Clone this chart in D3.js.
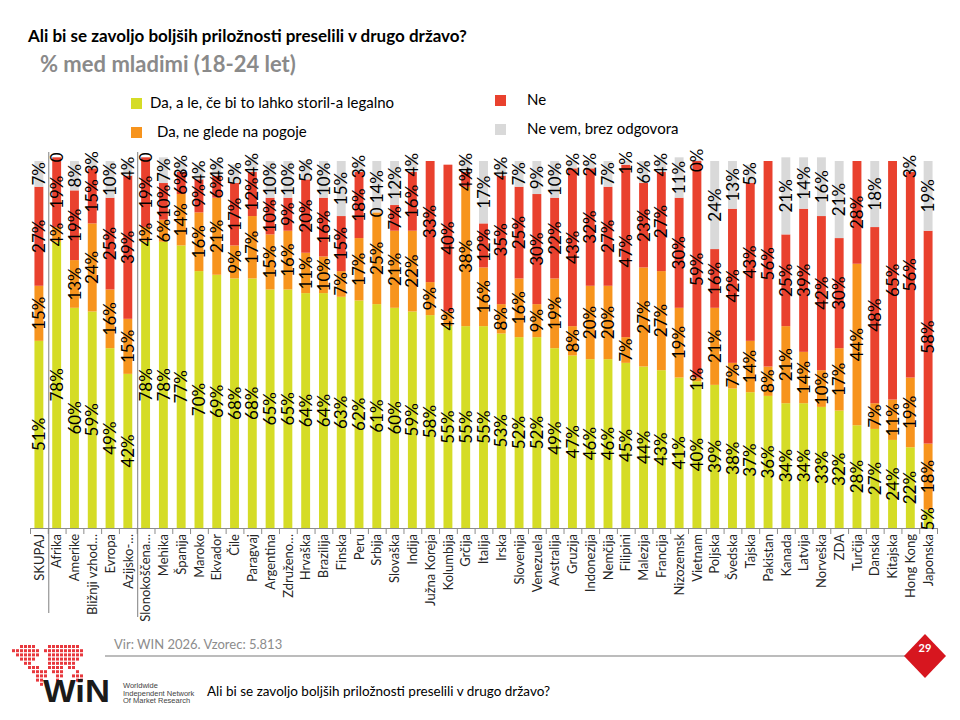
<!DOCTYPE html>
<html lang="sl">
<head>
<meta charset="UTF-8">
<title>Ali bi se zavoljo boljših priložnosti preselili v drugo državo?</title>
<style>
  html, body { margin: 0; padding: 0; background: #fff; }
  svg { display: block; font-family: Lato, "Open Sans", sans-serif; }
</style>
</head>
<body>
<div id="chart"></div>
<script src="https://cdn.jsdelivr.net/npm/d3@7"></script>
<script>
// categories as they appear (Excel truncated some of them)
const countries = ["SKUPAJ", "Afrika", "Amerike", "Bližnji vzhod…", "Evropa", "Azijsko-…",
  "Slonokoščena…", "Mehika", "Španija", "Maroko", "Ekvador", "Čile", "Paragvaj", "Argentina",
  "Združeno…", "Hrvaška", "Brazilija", "Finska", "Peru", "Srbija", "Slovaška", "Indija",
  "Južna Koreja", "Kolumbija", "Grčija", "Italija", "Irska", "Slovenija", "Venezuela",
  "Avstralija", "Gruzija", "Indonezija", "Nemčija", "Filipini", "Malezija", "Francija",
  "Nizozemsk", "Vietnam", "Poljska", "Švedska", "Tajska", "Pakistan", "Kanada", "Latvija",
  "Norveška", "ZDA", "Turčija", "Danska", "Kitajska", "Hong Kong", "Japonska"];

// null = no label shown
const legalno = [51, 78, 60, 59, 49, 42, 78, 78, 77, 70, 69, 68, 68, 65, 65, 64, 64, 63, 62, 61, 60, 59,
  58, 55, 55, 55, 53, 52, 52, 49, 47, 46, 46, 45, 44, 43, 41, 40, 39, 38, 37, 36, 34, 34, 33, 32, 28,
  27, 24, 22, 5];
const pogoje = [15, 4, 13, 24, 16, 15, 4, 6, 14, 16, 21, 9, 17, 15, 16, 11, 10, 7, 17, 25, 21, 22,
  9, 4, 38, 16, 8, 16, 9, 19, 8, 20, 20, 7, 27, 27, 19, 1, 21, 7, 14, 8, 21, 14, 10, 17, 44,
  7, 11, 19, 18];
const ne = [27, 19, 19, 15, 25, 39, 19, 10, 6, 9, 6, 17, 12, 10, 9, 20, 16, 15, 18, 0, 7, 16,
  33, 40, 4, 12, 35, 25, 30, 22, 43, 32, 27, 47, 23, 27, 30, 59, 16, 42, 43, 56, 25, 39, 42, 30, 28,
  48, 65, 56, 58];
const neVem = [7, 0, 8, 3, 10, 4, 0, 7, 3, 4, 4, 5, 4, 10, 10, 5, 10, 15, 3, 14, 12, 4,
  null, null, 4, 17, 4, 7, 9, 10, 2, 2, 7, 1, 6, 4, 11, 0.4, 24, 13, 5, null, 21, 14, 16, 21, null,
  18, null, 3, 19];

const seriesNames = ["Da, a le, če bi to lahko storil-a legalno", "Da, ne glede na pogoje", "Ne", "Ne vem, brez odgovora"];
const colors = ["#d5dc26", "#f7941d", "#e9412e", "#d9d9d9"];

const title = "Ali bi se zavoljo boljših priložnosti preselili v drugo državo?";
const subtitle = "% med mladimi (18-24 let)";
const source = "Vir: WIN 2026.  Vzorec: 5.813";
const pageNo = "29";

// rows for d3.stack
const keys = ["legalno", "pogoje", "ne", "neVem"];
const rows = countries.map((c, i) => ({
  country: c,
  legalno: legalno[i], pogoje: pogoje[i], ne: ne[i], neVem: neVem[i]
}));

const width = 960, height = 720;
const svg = d3.select("#chart").append("svg")
  .attr("width", width).attr("height", height);

const x = d3.scaleBand().domain(countries).range([30, 937])
  .paddingInner(0.5).paddingOuter(0.25);
const y = d3.scaleLinear().domain([0, 100]).range([528, 161]);
const step = x.step();

// titles
svg.append("text").attr("x", 28).attr("y", 42)
  .style("font-size", "17px").style("font-weight", "bold").attr("fill", "#000")
  .text(title);
svg.append("text").attr("x", 40).attr("y", 72)
  .style("font-size", "22px").style("font-weight", "bold").attr("fill", "#8a8a8a")
  .text(subtitle);

// legend
const legendPos = [[131, 98], [131, 127], [495, 95], [495, 124]];
const legendTextX = [150, 157, 527, 527];
const lg = svg.append("g").selectAll("g").data(seriesNames).join("g");
lg.append("rect")
  .attr("x", (d, i) => legendPos[i][0]).attr("y", (d, i) => legendPos[i][1])
  .attr("width", 11).attr("height", 11)
  .attr("fill", (d, i) => colors[i]);
lg.append("text")
  .attr("x", (d, i) => legendTextX[i]).attr("y", (d, i) => legendPos[i][1] + 10)
  .style("font-size", "15px").attr("fill", "#000")
  .text(d => d);

// stacked bars
const stacked = d3.stack().keys(keys).value((d, k) => d[k] || 0)(rows);

const layers = svg.append("g").selectAll("g").data(stacked).join("g")
  .attr("fill", (d, i) => colors[i]);
layers.selectAll("rect").data(d => d).join("rect")
  .attr("x", d => x(d.data.country))
  .attr("width", x.bandwidth())
  .attr("y", d => y(d[1]))
  .attr("height", d => y(d[0]) - y(d[1]));

// axis line + ticks between categories
svg.append("line").attr("x1", 30).attr("x2", 937).attr("y1", 528.5).attr("y2", 528.5)
  .attr("stroke", "#8c8c8c");
svg.append("g").selectAll("line").data(d3.range(countries.length + 1)).join("line")
  .attr("x1", k => 30 + k * step + 0.5).attr("x2", k => 30 + k * step + 0.5)
  .attr("y1", 528).attr("y2", 534)
  .attr("stroke", "#8c8c8c");

// group separators
[1, 6].forEach(k => {
  svg.append("line")
    .attr("x1", 31 + k * step).attr("x2", 31 + k * step)
    .attr("y1", 152).attr("y2", k === 1 ? 613 : 617)
    .attr("stroke", "#7f7f7f");
});

// category labels
svg.append("g").selectAll("text").data(countries).join("text")
  .attr("transform", d => `translate(${x(d) + x.bandwidth() / 2},534) rotate(-90)`)
  .attr("text-anchor", "end").attr("dy", "0.36em")
  .style("font-size", "13px").attr("fill", "#262626")
  .text(d => d);

// value labels
const fmt = v => v === 0 ? "0" : Math.round(v) + "%";
const lab = svg.append("g");
stacked.forEach(layer => {
  lab.selectAll(null).data(layer.filter(d => d.data[layer.key] !== null)).join("text")
    .attr("transform", d => `translate(${x(d.data.country) + x.bandwidth() / 2},${y((d[0] + d[1]) / 2)}) rotate(-90)`)
    .attr("text-anchor", "middle").attr("dy", "0.36em")
    .style("font-size", "17px").attr("fill", "#000")
    .text(d => fmt(d.data[layer.key]));
});

// footer
svg.append("text").attr("x", 114).attr("y", 649)
  .style("font-size", "13px").attr("fill", "#8c8c8c").text(source);
svg.append("line").attr("x1", 105).attr("x2", 905).attr("y1", 656).attr("y2", 656)
  .attr("stroke", "#a6a6a6").attr("stroke-width", 1.5);
svg.append("path")
  .attr("d", "M925,634 L946,656 L925,678 L904,656 Z")
  .attr("fill", "#d7161f");
svg.append("text").attr("x", 925).attr("y", 652).attr("text-anchor", "middle")
  .style("font-size", "11px").style("font-weight", "bold").attr("fill", "#fff").text(pageNo);

// WIN logo: dotted world map
const mapMask = [
  "..####...########..",
  "#######.##########.",
  ".######..#########.",
  "..####...########..",
  "...##....#######...",
  "....###..####.##...",
  ".....####.###...#..",
  "......###..##..###.",
  "......##...#....##.",
  ".......#..........."
];
const dots = [];
mapMask.forEach((row, r) => row.split("").forEach((ch, c) => { if (ch === "#") dots.push([c, r]); }));
svg.append("g").selectAll("rect").data(dots).join("rect")
  .attr("x", d => 12 + d[0] * 4).attr("y", d => 645 + d[1] * 4.2)
  .attr("width", 3).attr("height", 3).attr("fill", "#e8383d");
svg.append("text").attr("x", 43).attr("y", 702)
  .style("font-family", "'Liberation Sans', Arial, sans-serif")
  .style("font-size", "31px").style("font-weight", "bold").attr("fill", "#1a1a1a")
  .attr("textLength", 67).attr("lengthAdjust", "spacingAndGlyphs")
  .text("WiN");
["Worldwide", "Independent Network", "Of Market Research"].forEach((t, i) => {
  svg.append("text").attr("x", 123).attr("y", 688 + i * 7.5)
    .style("font-family", "'Liberation Sans', Arial, sans-serif")
    .style("font-size", "7.5px").attr("fill", "#444").text(t);
});
svg.append("text").attr("x", 207).attr("y", 696)
  .style("font-size", "13.5px").attr("fill", "#000").text(title);
</script>
</body>
</html>
